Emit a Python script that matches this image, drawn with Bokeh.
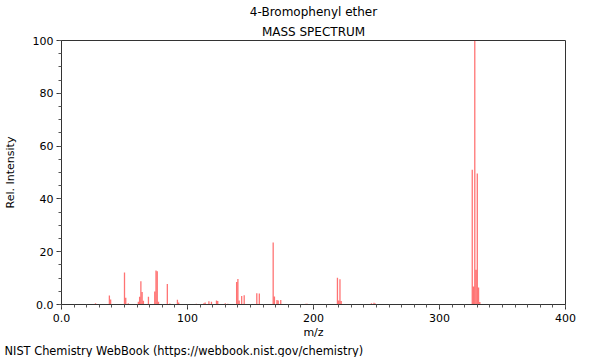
from bokeh.plotting import figure
from bokeh.models import Range1d, FixedTicker, Title, ColumnDataSource
from bokeh.embed import file_html
from bokeh.resources import INLINE

mz = [27, 38, 39, 50, 51, 53, 61, 62, 63, 64, 65, 69, 74, 75, 76, 77, 84, 86, 92, 93,
      107, 113, 114, 117, 119, 123, 124, 130, 132, 139, 140, 141, 143, 145, 155, 157,
      168, 169, 171, 172, 174, 194, 195, 219, 220, 221, 222, 246, 248, 249,
      326, 327, 328, 329, 330, 331, 332]
intensity = [0.5, 3.4, 1.9, 12.1, 2.6, 0.5, 1.0, 2.9, 8.8, 4.7, 1.4, 2.9, 4.9, 12.9, 12.6, 1.0, 7.8, 0.4, 1.8, 0.8,
             0.3, 0.5, 0.8, 1.2, 1.0, 1.5, 1.3, 0.5, 0.3, 8.5, 9.7, 1.5, 3.2, 3.5, 4.3, 4.2,
             23.5, 3.0, 1.7, 1.5, 1.7, 0.3, 0.3, 10.1, 1.5, 9.6, 1.3, 0.5, 0.7, 0.4,
             51.0, 6.8, 100.0, 13.2, 49.6, 6.4, 0.9]
x_ticks = [0, 100, 200, 300, 400]
y_ticks = [0, 20, 40, 60, 80, 100]

FONT = "DejaVu Sans"

p = figure(frame_width=504, frame_height=264, output_backend="svg", toolbar_location=None,
           x_range=Range1d(0, 400), y_range=Range1d(0, 100),
           min_border_left=54, min_border_right=26, min_border_top=32, min_border_bottom=40)
p.title = None
p.xgrid.visible = False
p.ygrid.visible = False
p.outline_line_color = "#333333"
p.outline_line_width = 1

src = ColumnDataSource(dict(x=mz, top=intensity, bottom=[0] * len(mz)))
p.segment(x0="x", y0="bottom", x1="x", y1="top", source=src,
          line_color="#ff0000", line_alpha=0.55, line_width=1.3)

p.xaxis.ticker = FixedTicker(ticks=x_ticks, minor_ticks=list(range(0, 401, 10)))
p.yaxis.ticker = FixedTicker(ticks=y_ticks, minor_ticks=list(range(0, 101, 5)))
p.xaxis.major_label_overrides = {0: "0.0"}
p.yaxis.major_label_overrides = {0: "0.0"}
for ax in (p.xaxis, p.yaxis):
    ax.axis_line_color = "#333333"
    ax.major_tick_line_color = "#333333"
    ax.minor_tick_line_color = "#555555"
    ax.major_tick_out = 5
    ax.major_tick_in = 0
    ax.minor_tick_out = 3
    ax.minor_tick_in = 0
    ax.major_label_text_font = FONT
    ax.major_label_text_font_size = "11px"
    ax.major_label_text_color = "#000000"
    ax.axis_label_text_font = FONT
    ax.axis_label_text_font_size = "11px"
    ax.axis_label_text_font_style = "normal"
    ax.axis_label_text_color = "#000000"
p.xaxis.axis_label = "m/z"
p.yaxis.axis_label = "Rel. Intensity"
p.xaxis.axis_label_standoff = 1
p.yaxis.axis_label_standoff = 13
p.xaxis.major_label_standoff = 4
p.yaxis.major_label_standoff = 3

t2 = Title(text="MASS SPECTRUM", align="center", text_font=FONT, text_font_size="12px",
           text_font_style="normal", text_color="#000000", standoff=4)
t1 = Title(text="4-Bromophenyl ether", align="center", text_font=FONT, text_font_size="12px",
           text_font_style="normal", text_color="#000000", standoff=4)
p.add_layout(t2, "above")
p.add_layout(t1, "above")

foot = Title(text="NIST Chemistry WebBook (https://webbook.nist.gov/chemistry)", align="left",
             text_font=FONT, text_font_size="11.4px", text_font_style="normal",
             text_color="#000000", offset=-57, standoff=0)
p.add_layout(foot, "below")

open("out.html", "w").write(file_html(p, INLINE))
